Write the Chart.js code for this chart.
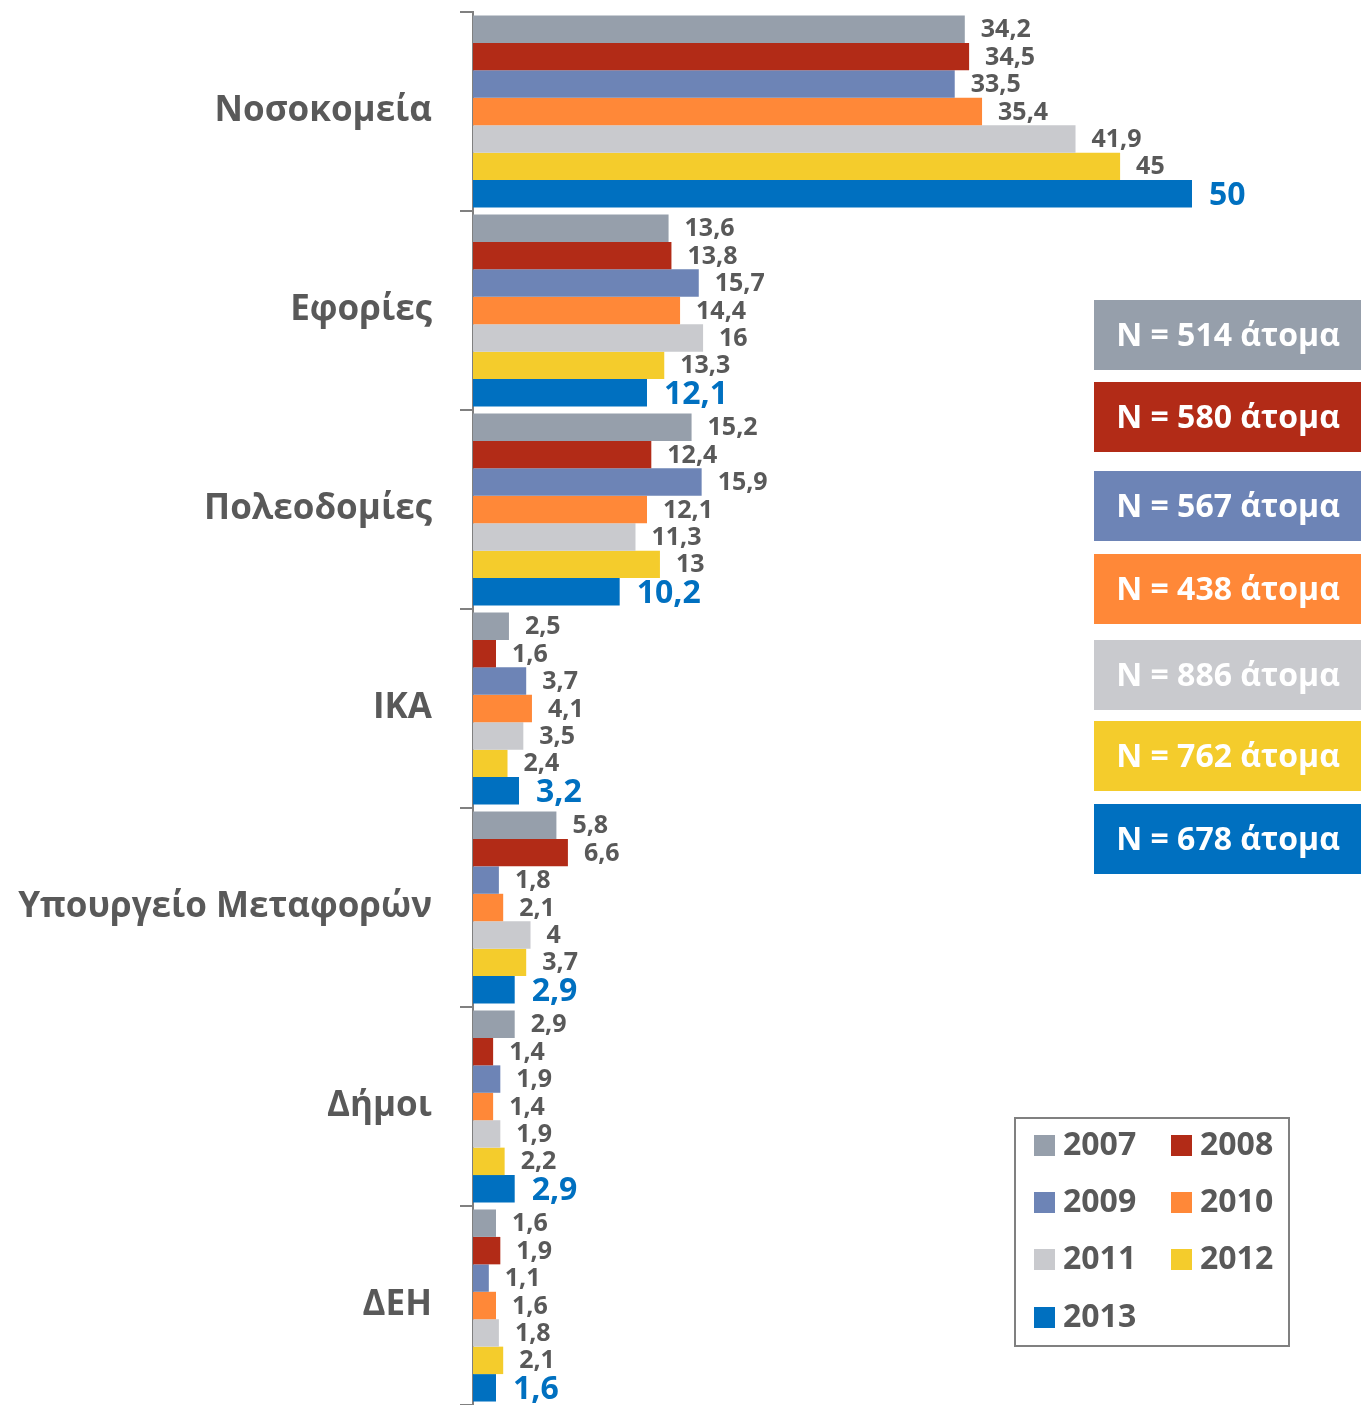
<!DOCTYPE html>
<html><head><meta charset="utf-8">
<script src="https://cdn.jsdelivr.net/npm/chart.js@4/dist/chart.umd.min.js"></script>
<style>html,body{margin:0;padding:0;background:#fff}#wrap{width:1368px;height:1405px;position:relative}</style>
</head><body><div id="wrap"><canvas id="c" width="1368" height="1405"></canvas></div>
<script>
const categories = ["Νοσοκομεία","Εφορίες","Πολεοδομίες","ΙΚΑ","Υπουργείο Μεταφορών","Δήμοι","ΔΕΗ"];
const years = ["2007","2008","2009","2010","2011","2012","2013"];
const v2007 = [34.2,13.6,15.2,2.5,5.8,2.9,1.6];
const v2008 = [34.5,13.8,12.4,1.6,6.6,1.4,1.9];
const v2009 = [33.5,15.7,15.9,3.7,1.8,1.9,1.1];
const v2010 = [35.4,14.4,12.1,4.1,2.1,1.4,1.6];
const v2011 = [41.9,16,11.3,3.5,4,1.9,1.8];
const v2012 = [45,13.3,13,2.4,3.7,2.2,2.1];
const v2013 = [50,12.1,10.2,3.2,2.9,2.9,1.6];
const sampleN = [514,580,567,438,886,762,678];
const colors = ["#969FAB","#B22B17","#6D84B6","#FF8838","#C9CACE","#F4CC2C","#0070C0"];
const series = [v2007,v2008,v2009,v2010,v2011,v2012,v2013];
const FONT = "'Open Sans','Noto Sans',sans-serif";
const TXT = "#595959";

const labelPlugin = {
  id:'labels',
  afterDatasetsDraw(chart){
    const ctx = chart.ctx;
    ctx.save();
    chart.data.datasets.forEach((ds,di)=>{
      const meta = chart.getDatasetMeta(di);
      const last = di === chart.data.datasets.length-1;
      meta.data.forEach((bar,i)=>{
        const t = String(ds.data[i]).replace('.',',');
        ctx.font = (last? "bold 32px ":"bold 25px ") + FONT;
        ctx.fillStyle = last ? "#0070C0" : TXT;
        ctx.textAlign='left'; ctx.textBaseline='middle';
        ctx.fillText(t, bar.x + (last?17:16), bar.y + (last?2:1));
      });
    });
    // N boxes
    const tops=[300,382,471,554,640,721,804];
    sampleN.forEach((n,i)=>{
      ctx.fillStyle = colors[i];
      ctx.fillRect(1094,tops[i],267,70);
      ctx.fillStyle = "#fff";
      ctx.font = "bold 32px " + FONT;
      ctx.textAlign='center'; ctx.textBaseline='middle';
      ctx.fillText("N = " + n + " άτομα", 1228, tops[i]+37);
    });
    // legend
    ctx.strokeStyle="#808080"; ctx.lineWidth=2;
    ctx.strokeRect(1015,1118,274,228);
    const rows=[1145,1202,1259,1317];
    chart.data.datasets.forEach((ds,di)=>{
      const col = di%2, row=Math.floor(di/2);
      const x = col===0?1034:1171;
      const y = rows[row];
      ctx.fillStyle = ds.backgroundColor;
      ctx.fillRect(x,y-10,21,21);
      ctx.fillStyle = TXT;
      ctx.font = "bold 32px " + FONT;
      ctx.textAlign='left'; ctx.textBaseline='middle';
      ctx.fillText(ds.label, x+29, y+1);
    });
    ctx.restore();
  }
};

new Chart(document.getElementById('c'),{
  type:'bar',
  data:{labels:categories, datasets: years.map((y,i)=>({label:y,data:series[i],backgroundColor:colors[i],borderWidth:0,barPercentage:1,categoryPercentage:0.965}))},
  options:{
    indexAxis:'y', responsive:false, animation:false,
    layout:{padding:{top:12,right:176,bottom:0,left:0}},
    plugins:{legend:{display:false},tooltip:{enabled:false}},
    scales:{
      x:{display:false,min:0,max:50},
      y:{
        afterFit(s){s.width=473; s.paddingTop=0; s.paddingBottom=0;},
        grid:{offset:true,drawOnChartArea:false,drawTicks:true,tickLength:13,color:"#808080",lineWidth:2},
        border:{display:true,color:"#808080",width:2},
        ticks:{color:TXT,font:{family:FONT,size:35,weight:'bold'},padding:28}
      }
    }
  },
  plugins:[labelPlugin]
});
</script></body></html>
